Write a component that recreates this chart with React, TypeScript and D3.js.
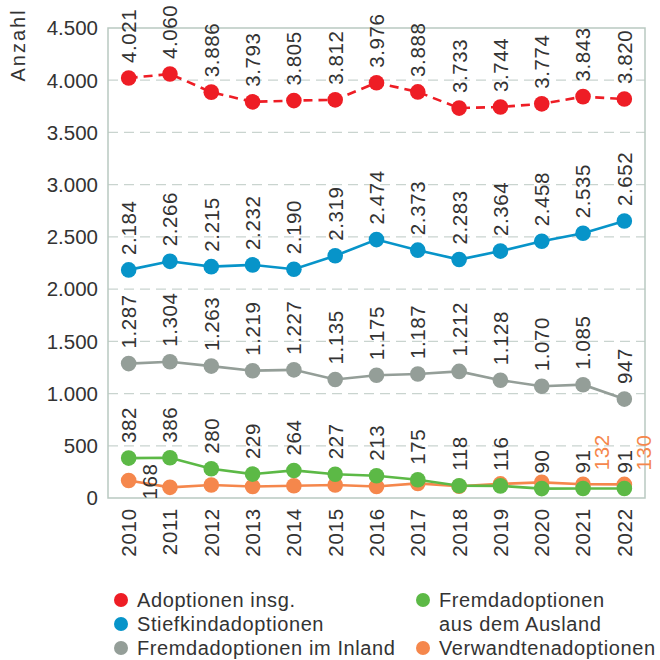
import * as d3 from 'd3';

const years = ['2010', '2011', '2012', '2013', '2014', '2015', '2016', '2017', '2018', '2019', '2020', '2021', '2022'];
const insgesamt = [4021, 4060, 3886, 3793, 3805, 3812, 3976, 3888, 3733, 3744, 3774, 3843, 3820];
const stiefkind = [2184, 2266, 2215, 2232, 2190, 2319, 2474, 2373, 2283, 2364, 2458, 2535, 2652];
const inland = [1287, 1304, 1263, 1219, 1227, 1135, 1175, 1187, 1212, 1128, 1070, 1085, 947];
const ausland = [382, 386, 280, 229, 264, 227, 213, 175, 118, 116, 90, 91, 91];
const verwandte = [168, 102, 124, 110, 118, 125, 110, 140, 112, 135, 150, 132, 130];
const yTicks = [0, 500, 1000, 1500, 2000, 2500, 3000, 3500, 4000, 4500];

const de = d3.formatLocale({ decimal: ',', thousands: '.', grouping: [3], currency: ['', ' €'] });
const fmt = de.format(',');

const FONT = '"Liberation Sans", Arial, sans-serif';
const TEXT = '#333';
const FRAME = '#b9c9c1';

const series = [
  { name: 'Adoptionen insg.', values: insgesamt, color: '#ee1d25', dashed: true },
  { name: 'Stiefkindadoptionen', values: stiefkind, color: '#0794c9', dashed: false },
  { name: 'Fremdadoptionen im Inland', values: inland, color: '#949e98', dashed: false },
  { name: 'Fremdadoptionen aus dem Ausland', values: ausland, color: '#5cb946', dashed: false },
  { name: 'Verwandtenadoptionen', values: verwandte, color: '#f5874c', dashed: false },
];

// draw order: orange under green so green dots sit on top
const drawOrder = [4, 3, 2, 1, 0];

export default function App() {
  const margin = { top: 28, right: 15, bottom: 162, left: 108 };
  const width = 660;
  const height = 660;

  const x = d3
    .scalePoint<string>()
    .domain(years)
    .range([margin.left, width - margin.right])
    .padding(0.5);

  const y = d3
    .scaleLinear()
    .domain([0, 4500])
    .range([height - margin.bottom, margin.top]);

  const line = d3
    .line<number>()
    .x((_, i) => x(years[i]) as number)
    .y((d) => y(d));

  const x0 = margin.left;
  const x1 = width - margin.right;

  // label placement: most labels sit above the dot, orange ones are only shown for a few years
  const labelFor = (si: number, i: number, v: number) => {
    const cx = x(years[i]) as number;
    const cy = y(v);
    if (si === 4) {
      if (i === 0) return { lx: cx + 21, ly: cy + 19, color: TEXT };
      if (i === 11 || i === 12) return { lx: cx + 19, ly: cy - 14, color: series[4].color };
      return null;
    }
    return { lx: cx, ly: cy - 15, color: TEXT };
  };

  const legend = [
    { si: 0, col: 0, row: 0, lines: ['Adoptionen insg.'] },
    { si: 1, col: 0, row: 1, lines: ['Stiefkindadoptionen'] },
    { si: 2, col: 0, row: 2, lines: ['Fremdadoptionen im Inland'] },
    { si: 3, col: 1, row: 0, lines: ['Fremdadoptionen', 'aus dem Ausland'] },
    { si: 4, col: 1, row: 2, lines: ['Verwandtenadoptionen'] },
  ];
  const legendX = [121, 423];
  const legendY = 600;
  const legendRow = 24;

  return (
    <svg
      width={width}
      height={height}
      style={{ position: 'absolute', left: 0, top: 0, background: '#fff' }}
      fontFamily={FONT}
    >
      {/* grid */}
      {yTicks
        .filter((t) => t > 0 && t < 4500)
        .map((t) => (
          <line
            key={t}
            x1={x0}
            x2={x1}
            y1={y(t)}
            y2={y(t)}
            stroke="#c9d4cf"
            strokeWidth={1.3}
            strokeDasharray="10,6"
          />
        ))}
      {/* frame */}
      <rect
        x={x0}
        y={y(4500)}
        width={x1 - x0}
        height={y(0) - y(4500)}
        fill="none"
        stroke={FRAME}
        strokeWidth={1.5}
      />

      {/* y tick labels */}
      {yTicks.map((t) => (
        <text
          key={t}
          x={x0 - 10}
          y={y(t)}
          dy="0.36em"
          textAnchor="end"
          fontSize={20.5}
          fill={TEXT}
        >
          {fmt(t)}
        </text>
      ))}
      <text
        transform={`translate(25,45) rotate(-90)`}
        textAnchor="middle"
        fontSize={20}
        letterSpacing={2}
        fill={TEXT}
      >
        Anzahl
      </text>

      {/* x tick labels */}
      {years.map((yr) => (
        <text
          key={yr}
          transform={`translate(${x(yr)},${y(0) + 10}) rotate(-90)`}
          dy="0.36em"
          textAnchor="end"
          fontSize={20.5}
          letterSpacing={0.8}
          fill={TEXT}
        >
          {yr}
        </text>
      ))}

      {/* lines and dots */}
      {drawOrder.map((si) => {
        const s = series[si];
        return (
          <g key={s.name}>
            <path
              d={line(s.values) || ''}
              fill="none"
              stroke={s.color}
              strokeWidth={2.6}
              strokeDasharray={s.dashed ? '9,6' : undefined}
            />
            {s.values.map((v, i) => (
              <circle key={i} cx={x(years[i])} cy={y(v)} r={7.8} fill={s.color} />
            ))}
          </g>
        );
      })}

      {/* value labels */}
      {series.map((s, si) =>
        s.values.map((v, i) => {
          const l = labelFor(si, i, v);
          if (!l) return null;
          return (
            <text
              key={`${si}-${i}`}
              transform={`translate(${l.lx},${l.ly}) rotate(-90)`}
              dy="0.36em"
              fontSize={20.5}
              letterSpacing={0.6}
              fill={l.color}
            >
              {fmt(v)}
            </text>
          );
        })
      )}

      {/* legend */}
      {legend.map((e) => {
        const cy = legendY + e.row * legendRow;
        return (
          <g key={e.si}>
            <circle cx={legendX[e.col]} cy={cy} r={7} fill={series[e.si].color} />
            {e.lines.map((t, k) => (
              <text
                key={k}
                x={legendX[e.col] + 16}
                y={cy + k * legendRow}
                dy="0.36em"
                fontSize={20}
                letterSpacing={0.6}
                fill={TEXT}
              >
                {t}
              </text>
            ))}
          </g>
        );
      })}
    </svg>
  );
}
